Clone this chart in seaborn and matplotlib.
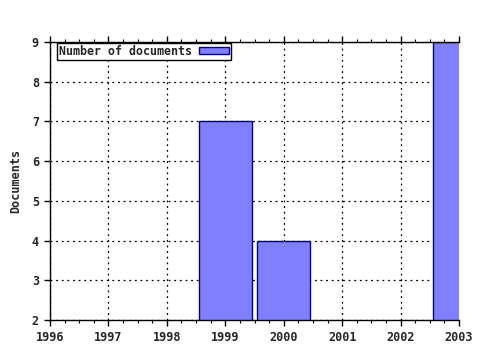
import matplotlib
matplotlib.use("Agg")
import matplotlib.pyplot as plt
import seaborn as sns
import pandas as pd
from matplotlib.patches import Patch
from matplotlib.ticker import MultipleLocator

years = [1999, 2000, 2003]
documents = [7, 4, 9]
x_ticks = [1996, 1997, 1998, 1999, 2000, 2001, 2002, 2003]
y_ticks = [2, 3, 4, 5, 6, 7, 8, 9]
series_label = "Number of documents"

sns.set_style("white")
plt.rcParams['font.family'] = ['DejaVu Sans Mono']
plt.rcParams['font.weight'] = 'bold'

df = pd.DataFrame({"year": years, "docs": documents})

fig = plt.figure(figsize=(4.8, 3.5), dpi=100)
ax = fig.add_axes([50/480, 30/350, 409/480, 278/350])

sns.barplot(data=df, x="year", y="docs", native_scale=True, width=0.9,
            color="#8080ff", saturation=1, edgecolor="#000080", linewidth=1.0, ax=ax)

ax.set_xlim(1996, 2003)
ax.set_ylim(2, 9)
ax.set_xticks(x_ticks)
ax.set_xticklabels([str(t) for t in x_ticks])
ax.set_yticks(y_ticks)
ax.xaxis.set_minor_locator(MultipleLocator(0.25))
ax.tick_params(axis='x', which='both', top=True, bottom=True, direction='out', labelsize=8.5, color='black', pad=4)
ax.tick_params(axis='x', which='major', length=4, width=1)
ax.tick_params(axis='x', which='minor', length=2, width=0.8)
ax.tick_params(axis='y', which='major', left=True, length=4, width=1, labelsize=8.5, color='black', pad=4)
ax.grid(True, which='major', color='black', linestyle=(0, (1.5, 3)), linewidth=0.9)
ax.set_axisbelow(True)
for s in ['left', 'bottom', 'top']:
    ax.spines[s].set_visible(True)
    ax.spines[s].set_color('black')
    ax.spines[s].set_linewidth(1)
ax.spines['right'].set_visible(False)
ax.set_xlabel("")
ax.set_ylabel("Documents", fontsize=8.5, fontweight='bold', labelpad=7)

handle = Patch(facecolor="#8080ff", edgecolor="#000080", linewidth=1)
leg = ax.legend(handles=[handle], labels=[series_label], loc='upper left',
                bbox_to_anchor=(7/409, 1 - 1/278),
                markerfirst=False, fancybox=False, framealpha=1, edgecolor='black',
                borderaxespad=0, fontsize=8.4, handlelength=2.6, handleheight=0.6,
                borderpad=0.15, handletextpad=0.6)
leg.get_frame().set_linewidth(1)
for t in leg.get_texts():
    t.set_fontweight('bold')

fig.savefig("out.png", dpi=100)
